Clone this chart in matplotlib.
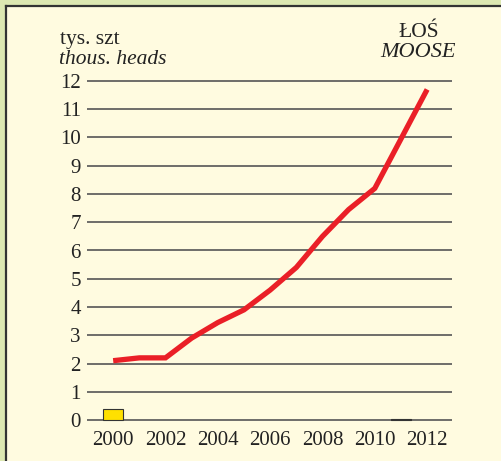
import matplotlib
matplotlib.use('Agg')
import matplotlib.pyplot as plt
from matplotlib.patches import Rectangle
from matplotlib.lines import Line2D

# moose population, thousand heads
years = [2000, 2001, 2002, 2003, 2004, 2005, 2006, 2007, 2008, 2009, 2010, 2011, 2012]
moose = [2.1, 2.2, 2.2, 2.9, 3.45, 3.9, 4.6, 5.4, 6.5, 7.45, 8.2, 9.95, 11.7]

# harvest bars
bar_years = [2000, 2011]
bar_values = [0.4, 0.05]
bar_colors = ['#ffe000', '#222222']

x_ticks = [2000, 2002, 2004, 2006, 2008, 2010, 2012]
y_ticks = list(range(0, 13))

W, H = 501, 461
plt.rcParams['font.family'] = ['Liberation Serif', 'DejaVu Serif']
text_color = '#222222'

fig = plt.figure(figsize=(W / 100, H / 100), dpi=100)
fig.patch.set_facecolor('#dde8b2')

# cream panel with dark left/top border
px, py = 6 / W, 1 - 6 / H
fig.patches.append(Rectangle((px, 0), 1 - px, py, transform=fig.transFigure,
                             facecolor='#fffbe0', edgecolor='none', zorder=-2))
fig.lines.append(Line2D([px, px], [0, py], transform=fig.transFigure,
                        color='#333333', lw=1.6, zorder=-1))
fig.lines.append(Line2D([px, 1], [py, py], transform=fig.transFigure,
                        color='#333333', lw=1.6, zorder=-1))

ax = fig.add_axes([87 / W, (H - 428.5) / H, (452 - 87) / W, 356 / H])
ax.set_facecolor('none')
ax.set_xlim(1999.0, 2012.95)
ax.set_ylim(-0.3, 12.3)

for y in y_ticks:
    ax.axhline(y, color='#555555', lw=1.2, zorder=1)

ax.bar(bar_years, bar_values, width=0.76, color=bar_colors,
       edgecolor='#333333', linewidth=0.8, zorder=2)
ax.plot(years, moose, color='#ea1f27', lw=3.8, solid_capstyle='butt',
        solid_joinstyle='miter', zorder=3)

for s in ax.spines.values():
    s.set_visible(False)
ax.set_xticks(x_ticks)
ax.set_yticks(y_ticks)
ax.tick_params(length=0, labelsize=15, labelcolor=text_color)
ax.tick_params(axis='y', pad=4.5)
ax.tick_params(axis='x', pad=2)

fig.text(60 / W, 1 - 44 / H, 'tys. szt', fontsize=15.5, color=text_color)
fig.text(59 / W, 1 - 64 / H, 'thous. heads', fontsize=15.5, style='italic',
         color=text_color)
fig.text(419 / W, 1 - 37 / H, 'ŁOŚ', fontsize=15.5, ha='center', color=text_color)
fig.text(418 / W, 1 - 57 / H, 'MOOSE', fontsize=16, ha='center', style='italic',
         color=text_color)

fig.savefig('out.png', dpi=100, facecolor=fig.get_facecolor())
